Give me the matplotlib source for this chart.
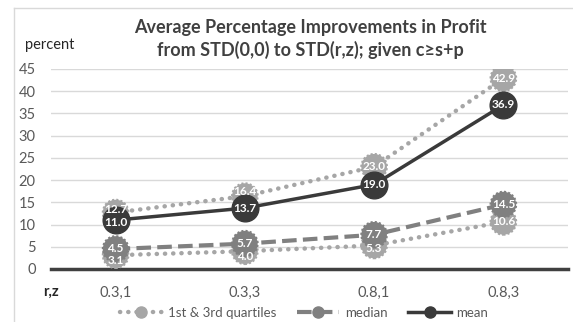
import matplotlib
matplotlib.use("Agg")
import matplotlib.pyplot as plt
from matplotlib.lines import Line2D

categories = ["0.3,1", "0.3,3", "0.8,1", "0.8,3"]
q1 = [3.1, 4.0, 5.3, 10.6]
q3 = [12.7, 16.4, 23.0, 42.9]
median = [4.5, 5.7, 7.7, 14.5]
mean = [11.0, 13.7, 19.0, 36.9]
yticks = [0, 5, 10, 15, 20, 25, 30, 35, 40, 45]

FONT = "Lato"
plt.rcParams["font.family"] = [FONT, "DejaVu Sans"]

c_q = "#A6A6A6"
c_med = "#808080"
c_mean = "#3A3A3A"
c_text = "#595959"

fig = plt.figure(figsize=(5.73, 3.22), dpi=100)
ax = fig.add_axes([51/573, 1-269/322, (568-51)/573, 200/322])

x = list(range(len(categories)))

ax.set_xlim(-0.5, len(categories) - 0.5)
ax.set_ylim(0, 45)
ax.set_yticks(yticks)
ax.set_xticks(x)
ax.set_xticklabels(categories)
ax.tick_params(axis="both", length=0, labelsize=10.5, labelcolor=c_text)
ax.tick_params(axis="x", pad=12)
ax.tick_params(axis="y", pad=11)
for s in ["top", "right", "left"]:
    ax.spines[s].set_visible(False)
ax.spines["bottom"].set_color("#404040")
ax.spines["bottom"].set_linewidth(2.5)
ax.grid(axis="y", color="#D9D9D9", linewidth=1)
ax.set_axisbelow(True)

dot_style = (0, (0.05, 1.8))
msize = 340
# quartiles
for series in (q3, q1):
    ax.plot(x, series, color=c_q, linestyle=dot_style, linewidth=3.2,
            dash_capstyle="round", zorder=2)
    ax.scatter(x, series, s=msize, color=c_q, edgecolor=c_q,
               linewidth=1.5, linestyle=(0, (1, 1)), zorder=3)
# median
ax.plot(x, median, color=c_med, linestyle=(0, (3.5, 1.5)), linewidth=3, zorder=4)
ax.scatter(x, median, s=msize, color=c_med, edgecolor=c_med,
           linewidth=1.5, linestyle=(0, (1, 1)), zorder=5)
# mean
ax.plot(x, mean, color=c_mean, linewidth=2.5, zorder=6)
ax.scatter(x, mean, s=370, color=c_mean, edgecolor=c_mean, linewidth=1, zorder=7)

# label nudges in points (vertical), as in the reference layout
nudges = {
    "q3": [2.5, 3, 0, 0],
    "q1": [-3.5, -4, -2, 0],
    "median": [0.5, 0, 0, 0],
    "mean": [-1.5, 0, 0, 0],
}
for key, series in (("q3", q3), ("q1", q1), ("median", median), ("mean", mean)):
    for xi, v, dy in zip(x, series, nudges[key]):
        ax.annotate(f"{v:.1f}", (xi, v), xytext=(0, dy), textcoords="offset points",
                    ha="center", va="center", color="white",
                    fontsize=8.5, fontweight="bold", zorder=10)

fig.text(310/573, 1-27/322, "Average Percentage Improvements in Profit",
         ha="center", va="center", fontsize=13, fontweight="bold", color="#404040")
fig.text(310/573, 1-50/322, "from STD(0,0) to STD(r,z); given c\u2265s+p",
         ha="center", va="center", fontsize=13, fontweight="bold", color="#404040")
fig.text(25/573, 1-45/322, "percent", ha="left", va="center", fontsize=10.5, color="#262626")
fig.text(43/573, 1-292/322, "r,z", ha="left", va="center", fontsize=10.5,
         fontweight="bold", color="#262626")

# border (left and top visible)
fig.add_artist(Line2D([14/573, 14/573], [0, 1-8/322], transform=fig.transFigure,
                      color="#D9D9D9", linewidth=1))
fig.add_artist(Line2D([14/573, 1], [1-8/322, 1-8/322], transform=fig.transFigure,
                      color="#D9D9D9", linewidth=1))

handles = [
    Line2D([], [], color=c_q, linestyle=dot_style, linewidth=3.2,
           dash_capstyle="round", marker="o", markersize=8, markeredgecolor=c_q),
    Line2D([], [], color=c_med, linestyle=(0, (3.5, 1.5)), linewidth=3,
           marker="o", markersize=8, markeredgecolor=c_med),
    Line2D([], [], color=c_mean, linewidth=2.5, marker="o", markersize=8,
           markeredgecolor=c_mean),
]
labels = ["1st & 3rd quartiles", "median", "mean"]
fig.legend(handles, labels, loc="center", bbox_to_anchor=(304/573, 1-313/322),
           ncol=3, frameon=False, fontsize=9.5, handlelength=3.2,
           handletextpad=0.4, columnspacing=1.6, labelcolor=c_text)

fig.savefig("out.png", dpi=100)
